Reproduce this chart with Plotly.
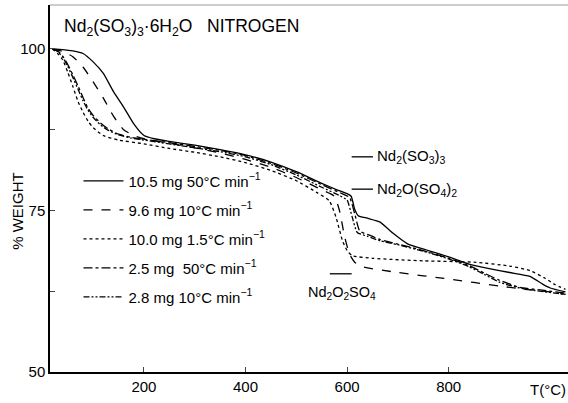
import plotly.graph_objects as go

# ---- data ----
series_names = [
    "10.5 mg 50°C min<sup>−1</sup>",
    "9.6 mg 10°C min<sup>−1</sup>",
    "10.0 mg 1.5°C min<sup>−1</sup>",
    "2.5 mg  50°C min<sup>−1</sup>",
    "2.8 mg 10°C min<sup>−1</sup>",
]

t_a = [20, 40, 60, 80, 100, 120, 140, 160, 180, 200, 220, 250, 300, 350, 400, 450, 500, 550, 580,
       600, 608, 615, 622, 640, 665, 690, 720, 760, 800, 840, 880, 920, 960, 985, 1000, 1030]
w_a = [100, 99.9, 99.7, 99.3, 98.0, 96.2, 93.4, 91.0, 88.4, 86.6, 86.1, 85.7, 85.1, 84.4, 83.6, 82.5,
       81.0, 79.2, 78.2, 77.6, 77.2, 75.2, 74.2, 73.8, 73.2, 71.5, 69.8, 68.8, 67.8, 66.7, 66.0, 65.4,
       64.8, 63.6, 63.0, 62.4]

t_b = [20, 40, 60, 80, 100, 120, 140, 160, 180, 200, 250, 300, 350, 400, 450, 500, 550, 575, 585,
       595, 605, 615, 630, 700, 800, 900, 950, 1000, 1030]
w_b = [100, 99.6, 98.8, 97.2, 94.9, 92.4, 89.6, 87.5, 86.6, 86.1, 85.4, 84.7, 83.9, 82.9, 81.7, 80.1,
       78.2, 77.2, 75.0, 71.0, 68.2, 67.0, 66.3, 65.4, 64.4, 63.3, 62.8, 62.4, 62.0]

t_c = [20, 30, 40, 50, 60, 70, 80, 90, 100, 120, 150, 200, 250, 300, 350, 400, 450, 500, 540, 565,
       578, 591, 600, 610, 650, 750, 850, 920, 960, 990, 1010, 1030]
w_c = [100, 99.3, 98.3, 96.4, 94.2, 91.9, 90.2, 88.8, 87.8, 86.6, 85.9, 85.3, 84.6, 84.0, 83.3, 82.4,
       81.2, 79.6, 77.8, 76.5, 74.0, 70.3, 68.8, 68.0, 67.6, 67.2, 67.0, 66.4, 65.7, 64.5, 63.5, 62.8]

t_d = [20, 30, 40, 50, 60, 70, 80, 90, 100, 115, 130, 150, 175, 200, 250, 300, 350, 400, 450, 500,
       550, 590, 605, 615, 625, 640, 665, 700, 750, 800, 840, 870, 900, 940, 980, 1030]
w_d = [100, 99.7, 98.9, 97.6, 96.0, 94.3, 92.5, 90.8, 89.7, 88.5, 87.6, 86.8, 86.3, 86.0, 85.5, 84.9,
       84.3, 83.5, 82.3, 80.8, 79.0, 77.6, 77.0, 74.5, 71.8, 71.3, 70.5, 69.8, 68.8, 67.6, 66.5, 65.3,
       64.2, 63.1, 62.7, 62.2]

t_e = [20, 30, 40, 50, 60, 70, 80, 90, 100, 115, 130, 150, 175, 200, 250, 300, 350, 400, 450, 500,
       550, 585, 600, 610, 620, 640, 665, 700, 750, 800, 840, 870, 900, 940, 980, 1030]
w_e = [100, 99.6, 98.7, 97.3, 95.6, 93.8, 92.0, 90.5, 89.4, 88.2, 87.4, 86.7, 86.2, 85.9, 85.3, 84.7,
       84.1, 83.3, 82.1, 80.5, 78.6, 77.3, 76.6, 74.0, 71.6, 71.0, 70.3, 69.7, 68.7, 67.5, 66.3, 65.1,
       63.9, 63.0, 62.5, 62.0]

x_ticks = [200, 400, 600, 800]
y_ticks = [50, 62.5, 75, 87.5, 100]
y_ticktext = ["50", "", "75", "", "100"]

FONT = "Liberation Sans"
dashes = ["solid", "dash", "dot", "dashdot", "6px,2px,2px,2px,2px,2px"]
xs = [t_a, t_b, t_c, t_d, t_e]
ys = [w_a, w_b, w_c, w_d, w_e]

fig = go.Figure()
for i in range(5):
    fig.add_trace(go.Scatter(
        x=xs[i], y=ys[i], mode="lines", name=series_names[i],
        legendgroup=f"g{i}",
        line=dict(color="black", width=1.3, dash=dashes[i], shape="spline", smoothing=0.5),
    ))

fig.update_layout(
    width=568, height=403,
    margin=dict(l=50, r=0, t=5, b=31),
    paper_bgcolor="white", plot_bgcolor="white",
    font=dict(family=FONT, size=15, color="black"),
    showlegend=True,
    legend=dict(x=0.055, y=0.565, xanchor="left", yanchor="top", bgcolor="rgba(0,0,0,0)",
                font=dict(size=15, family=FONT), tracegroupgap=6.5, itemwidth=40),
    xaxis=dict(range=[15, 1035], tickvals=x_ticks, ticks="inside", ticklen=5, tickwidth=1.2,
               showline=True, linecolor="black", linewidth=1.5, showgrid=False, zeroline=False,
               tickfont=dict(size=15, family=FONT)),
    yaxis=dict(range=[50, 106.8], tickvals=y_ticks, ticktext=y_ticktext, ticks="inside",
               ticklen=5, tickwidth=1.2, showline=True, linecolor="black", linewidth=1.5,
               showgrid=False, zeroline=False, tickfont=dict(size=15, family=FONT)),
)

# top frame line (faint)
fig.add_shape(type="line", xref="paper", yref="paper", x0=0, x1=1, y0=1, y1=1,
              line=dict(color="#999999", width=1))

# title inside plot
fig.add_annotation(xref="paper", yref="paper", x=0.024, y=0.975, xanchor="left", yanchor="top",
                   text="Nd<sub>2</sub>(SO<sub>3</sub>)<sub>3</sub>·6H<sub>2</sub>O   NITROGEN",
                   showarrow=False, font=dict(size=17.5, family=FONT))
# y axis title
fig.add_annotation(xref="paper", yref="y", x=-0.063, y=75, xanchor="center", text="% WEIGHT",
                   textangle=-90, showarrow=False, font=dict(size=15, family=FONT))
# x axis title in place of 1000 label
fig.add_annotation(xref="x", yref="paper", x=995, y=-0.02, yanchor="top", text="T(°C)",
                   showarrow=False, font=dict(size=15, family=FONT))

# product labels with leader lines
labels = [
    ("Nd<sub>2</sub>(SO<sub>3</sub>)<sub>3</sub>", 609, 651, 83.3, 655, 83.3),
    ("Nd<sub>2</sub>O(SO<sub>4</sub>)<sub>2</sub>", 609, 651, 78.3, 655, 78.3),
]
for txt, xa, xb, yl, xt, yt in labels:
    fig.add_shape(type="line", x0=xa, x1=xb, y0=yl, y1=yl, line=dict(color="black", width=1.3))
    fig.add_annotation(x=xt, y=yt, xanchor="left", text=txt, showarrow=False,
                       font=dict(size=15, family=FONT))
fig.add_shape(type="line", x0=566, x1=609, y0=65.2, y1=65.2, line=dict(color="black", width=1.3))
fig.add_annotation(x=590, y=62.2, xanchor="center",
                   text="Nd<sub>2</sub>O<sub>2</sub>SO<sub>4</sub>", showarrow=False,
                   font=dict(size=14.5, family=FONT))

fig.write_html("out.html", config={"displayModeBar": False},
               post_script="document.body.style.margin='0px';")
